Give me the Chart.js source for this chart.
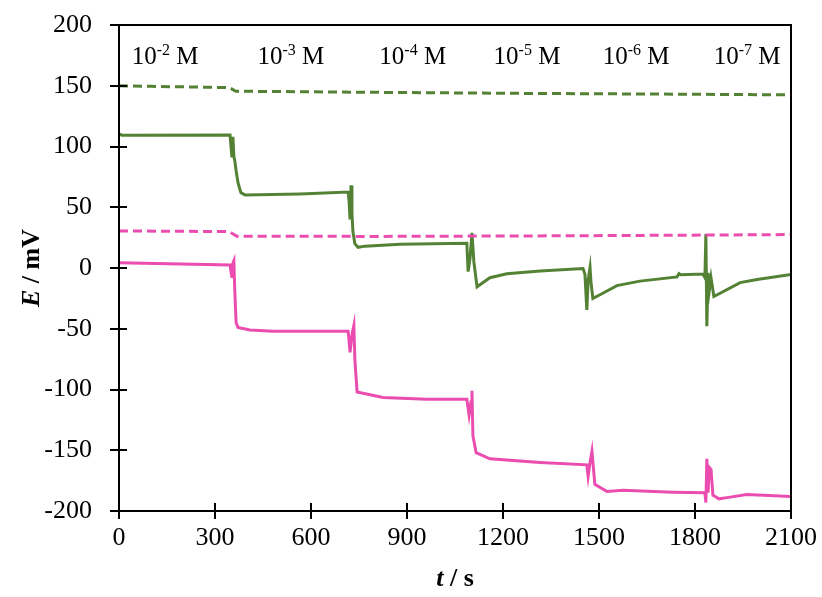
<!DOCTYPE html>
<html lang="en">
<head>
  <meta charset="UTF-8" />
  <title>E vs t</title>
  <script src="https://cdn.jsdelivr.net/npm/chart.js"></script>
  <style>
    body { margin: 0; background: #fff; }
    #wrap { width: 822px; height: 597px; }
  </style>
</head>
<body>
  <div id="wrap"><canvas id="graf"></canvas></div>

  <script>
    // solid green electrode
    const tGreen = [0, 9, 347, 350, 353, 356, 359, 362, 366, 372, 381, 394, 566, 716, 719, 722, 725, 728, 731, 737, 747, 769, 878, 1087, 1091, 1097, 1103, 1109, 1119, 1159, 1212, 1316, 1450, 1456, 1462, 1466, 1472, 1475, 1481, 1503, 1556, 1628, 1744, 1750, 1756, 1825, 1831, 1834, 1837, 1841, 1845, 1850, 1859, 1941, 1994, 2100];
    const eGreen = [110.5, 109.3, 109.5, 100, 91, 108, 92, 88, 80, 70, 62, 60, 61, 62.5, 55, 40, 68, 45, 30, 20, 17, 18, 19.5, 20.3, -3, 8, 29, 5, -15.5, -8, -4.7, -2.5, -0.5, -5, -34.5, -10, 0.3, -12, -25, -22, -14.5, -10.8, -7.3, -4.6, -5.5, -5, -8, 28, -48, -4, -18, -8, -23.5, -12, -9.5, -5.4];

    // solid pink electrode
    const tPink = [0, 347, 350, 353, 356, 359, 362, 366, 372, 409, 481, 716, 719, 722, 728, 734, 737, 744, 825, 962, 1087, 1094, 1100, 1103, 1106, 1116, 1159, 1316, 1462, 1466, 1472, 1478, 1487, 1525, 1575, 1731, 1831, 1834, 1837, 1841, 1844, 1850, 1856, 1875, 1900, 1962, 2100];
    const ePink = [4.3, 2.5, -3, -8, 4, 6, -20, -45, -49, -51, -52, -52, -60, -69.5, -55, -47.3, -75, -102, -106.6, -108, -108, -121, -110, -101, -138, -152, -157, -160, -162, -171.5, -160, -150.8, -178, -184, -183, -184.5, -185, -193, -157, -185, -164, -166, -187, -190, -189, -186.5, -188];

    // dashed reference traces
    const tGreenRef = [0, 100, 345, 365, 700, 1200, 1800, 2100];
    const eGreenRef = [150, 149.5, 148.5, 145.5, 144.8, 143.8, 143, 142.5];
    const tPinkRef = [0, 345, 368, 800, 1400, 2100];
    const ePinkRef = [30.5, 30, 26.2, 26, 26.5, 27.5];

    // concentration steps written across the top
    const concExp = ['-2', '-3', '-4', '-5', '-6', '-7'];
    const concT = [144, 537, 918, 1275, 1616, 1963];

    const xTicks = [0, 300, 600, 900, 1200, 1500, 1800, 2100];
    const yTicks = [-200, -150, -100, -50, 0, 50, 100, 150, 200];

    const VERDE = '#548235';
    const ROSA = '#EA4DAF';
    const SERIF = "'Liberation Serif', 'Times New Roman', serif";

    const puntos = (ts, es) => ts.map((t, i) => ({ x: t, y: es[i] }));

    // frame, crossing tick marks, step labels and axis titles
    const marco = {
      id: 'marco',
      afterDraw(chart) {
        const { ctx, chartArea: a, scales: { x, y } } = chart;
        ctx.save();
        ctx.strokeStyle = '#000';
        ctx.lineWidth = 2;
        ctx.strokeRect(a.left, a.top, a.right - a.left, a.bottom - a.top);
        ctx.beginPath();
        for (const v of yTicks) {
          const py = Math.round(y.getPixelForValue(v));
          ctx.moveTo(a.left - 9, py); ctx.lineTo(a.left + 8, py);
        }
        for (const v of xTicks) {
          const px = Math.round(x.getPixelForValue(v));
          ctx.moveTo(px, a.bottom - 8); ctx.lineTo(px, a.bottom + 8);
        }
        ctx.stroke();

        ctx.fillStyle = '#000';
        ctx.textBaseline = 'alphabetic';
        concExp.forEach((ex, i) => {
          ctx.font = `25px ${SERIF}`;
          const w1 = ctx.measureText('10').width;
          const w3 = ctx.measureText(' M').width;
          ctx.font = `16px ${SERIF}`;
          const w2 = ctx.measureText(ex).width;
          let px = x.getPixelForValue(concT[i]) - (w1 + w2 + w3) / 2;
          ctx.font = `25px ${SERIF}`;
          ctx.fillText('10', px, 64);
          ctx.font = `16px ${SERIF}`;
          ctx.fillText(ex, px + w1, 55);
          ctx.font = `25px ${SERIF}`;
          ctx.fillText(' M', px + w1 + w2, 64);
        });

        // x title: t / s
        ctx.font = `italic bold 26px ${SERIF}`;
        const wt = ctx.measureText('t').width;
        ctx.font = `bold 26px ${SERIF}`;
        const ws = ctx.measureText(' / s').width;
        let cx = (a.left + a.right) / 2 - (wt + ws) / 2;
        ctx.font = `italic bold 26px ${SERIF}`;
        ctx.fillText('t', cx, 586);
        ctx.font = `bold 26px ${SERIF}`;
        ctx.fillText(' / s', cx + wt, 586);

        // y title: E / mV
        ctx.translate(39, (a.top + a.bottom) / 2);
        ctx.rotate(-Math.PI / 2);
        ctx.font = `italic bold 26px ${SERIF}`;
        const we = ctx.measureText('E').width;
        ctx.font = `bold 26px ${SERIF}`;
        const wm = ctx.measureText(' / mV').width;
        cx = -(we + wm) / 2;
        ctx.font = `italic bold 26px ${SERIF}`;
        ctx.fillText('E', cx, 0);
        ctx.font = `bold 26px ${SERIF}`;
        ctx.fillText(' / mV', cx + we, 0);
        ctx.restore();
      }
    };

    const linea = (data, color, dash) => ({
      data,
      borderColor: color,
      borderWidth: 3,
      borderDash: dash,
      showLine: true,
      pointRadius: 0,
      tension: 0
    });

    new Chart(document.getElementById('graf'), {
      type: 'scatter',
      data: {
        datasets: [
          linea(puntos(tGreenRef, eGreenRef), VERDE, [9, 5]),
          linea(puntos(tPinkRef, ePinkRef), ROSA, [9, 5]),
          linea(puntos(tGreen, eGreen), VERDE, []),
          linea(puntos(tPink, ePink), ROSA, [])
        ]
      },
      options: {
        responsive: true,
        maintainAspectRatio: false,
        animation: false,
        layout: { padding: { top: 25, right: 31, left: 0, bottom: 0 } },
        plugins: { legend: { display: false }, tooltip: { enabled: false } },
        scales: {
          x: {
            type: 'linear', min: 0, max: 2100,
            grid: { display: false, drawTicks: false },
            border: { display: false },
            ticks: { stepSize: 300, padding: 12, color: '#000', font: { family: SERIF, size: 26 }, callback: v => String(v) },
            afterFit: s => { s.height = 86; s.paddingLeft = 0; s.paddingRight = 0; }
          },
          y: {
            min: -200, max: 200,
            grid: { display: false, drawTicks: false },
            border: { display: false },
            ticks: { stepSize: 50, padding: 27, color: '#000', font: { family: SERIF, size: 26 }, callback: v => String(v) },
            afterFit: s => { s.width = 119; s.paddingTop = 0; s.paddingBottom = 0; }
          }
        }
      },
      plugins: [marco]
    });
  </script>
</body>
</html>
